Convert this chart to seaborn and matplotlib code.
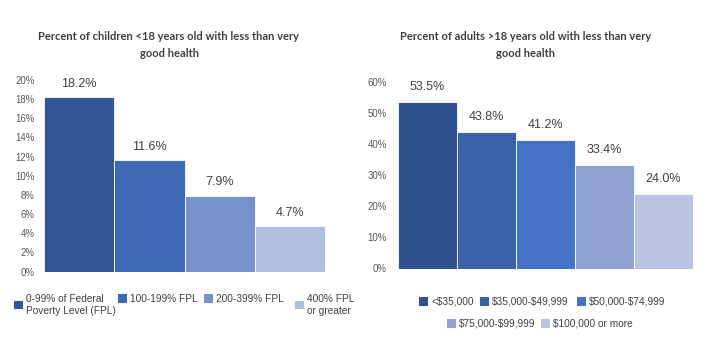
import matplotlib
matplotlib.use("Agg")
import matplotlib.pyplot as plt
import seaborn as sns
import pandas as pd
from matplotlib.patches import Patch
from matplotlib.ticker import FuncFormatter

sns.set_style("white")
plt.rcParams['font.family'] = ['Liberation Sans', 'DejaVu Sans']
plt.rcParams['text.parse_math'] = False

# Data
child_cats = ["0-99% of Federal\nPoverty Level (FPL)", "100-199% FPL", "200-399% FPL", "400% FPL\nor greater"]
child_vals = [18.2, 11.6, 7.9, 4.7]
child_colors = ["#325597", "#3E69B5", "#7891CB", "#B2BEDF"]
child_title = "Percent of children <18 years old with less than very\ngood health"
child_ticks = list(range(0, 21, 2))

adult_cats = ["<$35,000", "$35,000-$49,999", "$50,000-$74,999", "$75,000-$99,999", "$100,000 or more"]
adult_vals = [53.5, 43.8, 41.2, 33.4, 24.0]
adult_colors = ["#2F5190", "#3A62A8", "#4472C4", "#8EA3D4", "#BAC3E0"]
adult_title = "Percent of adults >18 years old with less than very\ngood health"
adult_ticks = list(range(0, 61, 10))

W, H = 720, 342
fig = plt.figure(figsize=(W / 100, H / 100), dpi=100)

def fx(px):
    return px / W

def fy(py):
    return 1 - py / H

ax1 = fig.add_axes([fx(44), fy(271.5), fx(325 - 44), fy(80) - fy(271.5)])
ax2 = fig.add_axes([fx(398), fy(268.5), fx(693 - 398), fy(82) - fy(268.5)])

TXT = "#404040"
TICK = "#595959"

def draw(ax, cats, vals, colors, ticks, pad, lpad):
    df = pd.DataFrame({"cat": cats, "val": vals})
    sns.barplot(data=df, x="cat", y="val", hue="cat", palette=colors, width=1.0,
                dodge=False, legend=False, ax=ax, edgecolor="white", linewidth=0.6,
                saturation=1)
    ax.set_xlim(-0.5, len(cats) - 0.5)
    ax.set_ylim(0, ticks[-1])
    ax.set_yticks(ticks)
    ax.yaxis.set_major_formatter(FuncFormatter(lambda v, p: f"{v:.0f}%"))
    ax.tick_params(axis="y", labelsize=6.9, colors=TICK, length=0, pad=pad)
    ax.set_xticks([])
    ax.set_xlabel("")
    ax.set_ylabel("")
    for s in ax.spines.values():
        s.set_visible(False)
    for c in ax.containers:
        ax.bar_label(c, labels=[f"{v:.1f}%" for v in c.datavalues], padding=lpad,
                     fontsize=9, color=TXT, clip_on=False)

draw(ax1, child_cats, child_vals, child_colors, child_ticks, 6.5, 5.5)
draw(ax2, adult_cats, adult_vals, adult_colors, adult_ticks, 8, 6.5)

tfont = ["Lato", "DejaVu Sans"]
fig.text(fx(169), fy(45), child_title, ha="center", va="center", fontsize=8.0,
         fontweight="bold", color=TXT, linespacing=1.75, family=tfont)
fig.text(fx(526), fy(45), adult_title, ha="center", va="center", fontsize=8.0,
         fontweight="bold", color=TXT, linespacing=1.75, family=tfont)

leg_kw = dict(frameon=False, fontsize=7.3, handlelength=0.85, handleheight=0.85,
              handletextpad=0.35, borderaxespad=0, borderpad=0, labelcolor=TXT)

def place(label, color, x, y):
    h = [Patch(facecolor=color, edgecolor="none", label=label)]
    fig.legend(handles=h, loc="upper left", bbox_to_anchor=(fx(x), fy(y)), **leg_kw)

child_pos = [(14, 294), (118, 294), (204, 294), (295, 294)]
for lab, col, (x, y) in zip(child_cats, child_colors, child_pos):
    place(lab, col, x, y)

adult_pos = [(419, 297), (480, 297), (577, 297), (447, 319), (541, 319)]
for lab, col, (x, y) in zip(adult_cats, adult_colors, adult_pos):
    place(lab, col, x, y)

fig.savefig("out.png", dpi=100)
